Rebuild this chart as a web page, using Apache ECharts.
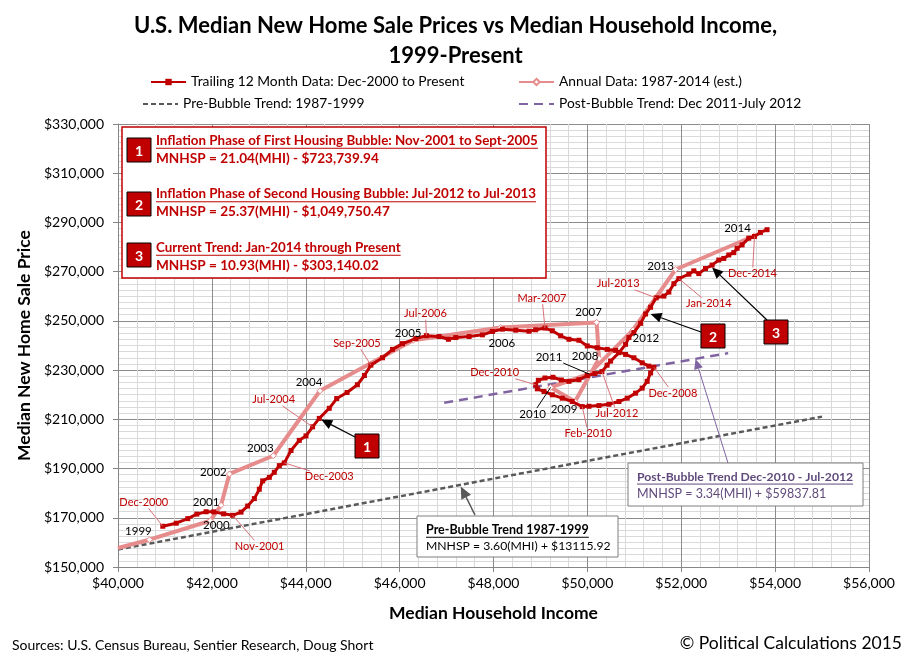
<!DOCTYPE html>
<html>
<head>
<meta charset="utf-8">
<script src="https://cdn.jsdelivr.net/npm/echarts/dist/echarts.min.js"></script>
<style>
  html, body { margin: 0; padding: 0; background: #fff; }
  #main { width: 911px; height: 661px; }
</style>
</head>
<body>
<div id="main"></div>
<script>
// trailing 12 month data, Dec-2000 to present (income, price)
var ttmIncome = [40954,41240,41486,41680,41877,42040,42250,42443,42621,42762,
  42905,43011,43082,43224,43330,43437,43543,43686,43862,44005,
  44146,44288,44501,44660,44880,45100,45250,45388,45635,45848,
  46061,46346,46571,46842,47040,47197,47480,47763,47976,48189,
  48474,48757,48899,49097,49253,49431,49608,49821,49998,50210,
  50423,50602,50814,50991,51168,51310,51417,51347,51274,51168,
  51027,50849,50672,50459,50246,50034,49891,49678,49465,49253,
  49076,48933,48899,48955,49097,49267,49444,49608,49821,49998,
  50160,50310,50420,50495,50672,50814,50885,50991,51134,51240,
  51347,51466,51630,51736,51843,51949,52162,52268,52374,52517,
  52657,52800,52906,53013,53119,53190,53296,53438,53560,53687,53828];
var ttmPrice = [166550,167800,169650,171500,172450,172400,171600,171000,172300,174770,
  177800,181600,185000,186430,188480,191190,192300,197350,201460,203270,
  206960,210370,214480,218450,220900,224050,227800,232020,235010,238420,
  240760,242820,244000,243640,242530,243230,243640,244330,245690,246640,
  246230,245800,246390,247080,245980,243930,242530,242120,239820,239120,
  238420,238010,236370,235010,232960,231610,231190,228850,225440,222690,
  220640,218590,217230,216120,215590,215300,215180,217230,218590,219960,
  221330,222400,224050,225860,226800,227090,225980,225440,226110,227800,
  228600,229400,232000,233660,237070,240480,243230,245280,249000,252800,
  255550,259370,260070,261710,265120,267170,268980,270330,269220,271280,
  272670,274730,275380,276780,277730,279490,280890,283600,284300,285940,287050];

// labelled months (index into the ttm arrays)
var monthLabels = ['Dec-2000','Nov-2001','Dec-2003','Jul-2004','Sep-2005','Jul-2006','Mar-2007',
  'Dec-2008','Feb-2010','Dec-2010','Jul-2012','Jul-2013','Jan-2014','Dec-2014'];
var monthIndex = [0,7,16,20,27,32,43,56,66,72,81,91,95,108];

// annual data (first point is where the line enters at the left edge)
var annualYears = ['','1999','2000','2001','2002','2003','2004','2005','2006','2007','2008',
  '2009','2010','2011','2012','2013','2014'];
var annualIncome = [40000,40670,41968,42196,42373,43309,44303,46289,48154,50197,50250,
  49736,49218,50034,50970,51879,53560];
var annualPrice = [157700,161090,168800,175100,187800,195200,221600,242120,247330,249390,234700,
  217230,222980,228440,246230,270870,284600];

// trend lines (end points)
var preTrendIncome = [40000, 55000];
var preTrendPrice = [157100, 211100];
var postTrendIncome = [46950, 53000];
var postTrendPrice = [216700, 236900];

var xTicks = [40000, 56000, 2000];
var yTicks = [150000, 330000, 20000];

// label placement (pixel offsets of label centre from its point)
var monthOffsets = [[-19,-24],[27,31],[45,14],[-39,-27],[-14,-22],[-1,-22],[-3,-30],
  [19,26],[6,27],[-41,-12],[15,42],[-38,-14],[30,25],[-2,37]];
var yearOffsets = [null,[-11,-8],[6,5],[-15,-3],[-16,-2],[-13,-7],[-11,-8],[-5,-7],[1,16],
  [-8,-10],[-14,-2],[-11,8],[-18,27],[-40,-17],[13,8],[-15,-3],[-17,-7]];
var yearLeader = ['2010', '2011'];

var FONT = 'Lato, "Open Sans", sans-serif';
var RED = '#C00000';
var PINK = '#E68C8C';
var GRAY = '#595959';
var PURPLE = '#8064A2';

function zip(a, b) { return a.map(function (v, i) { return [v, b[i]]; }); }
function money(v) { return '$' + String(v).replace(/\B(?=(\d{3})+(?!\d))/g, ','); }

var chart = echarts.init(document.getElementById('main'));

var legendBase = {
  itemWidth: 35, itemHeight: 8, padding: 0, itemGap: 0,
  textStyle: { fontFamily: FONT, fontSize: 13.8, color: '#000' }
};

var annualData = zip(annualIncome, annualPrice).map(function (p, i) {
  return i === 0 ? { value: p, symbol: 'none' } : p;
});

chart.setOption({
  animation: false,
  backgroundColor: '#fff',
  title: {
    text: 'U.S. Median New Home Sale Prices vs Median Household Income,\n1999-Present',
    left: 'center', top: 6,
    textStyle: { fontFamily: FONT, fontSize: 22, fontWeight: 'bold', color: '#000', lineHeight: 30 }
  },
  legend: [
    Object.assign({ data: ['Trailing 12 Month Data: Dec-2000 to Present'], left: 150, top: 75 }, legendBase),
    Object.assign({ data: ['Annual Data: 1987-2014 (est.)'], left: 518, top: 75 }, legendBase),
    Object.assign({ data: [{ name: 'Pre-Bubble Trend: 1987-1999', itemStyle: { opacity: 0 } }],
      left: 142, top: 97 }, legendBase),
    Object.assign({ data: [{ name: 'Post-Bubble Trend: Dec 2011-July 2012', itemStyle: { opacity: 0 } }],
      left: 518, top: 97 }, legendBase)
  ],
  grid: { left: 118, top: 124, width: 751, height: 443 },
  xAxis: {
    type: 'value', min: xTicks[0], max: xTicks[1], interval: xTicks[2],
    name: 'Median Household Income', nameLocation: 'middle', nameGap: 37,
    nameTextStyle: { fontFamily: FONT, fontSize: 17.5, fontWeight: 'bold', color: '#000' },
    axisLine: { show: true, lineStyle: { color: '#868686' } },
    axisTick: { show: true, length: 5, lineStyle: { color: '#868686' } },
    axisLabel: { formatter: money, fontFamily: FONT, fontSize: 14, color: '#000', margin: 9 },
    splitLine: { show: true, lineStyle: { color: '#8C8C8C' } },
    minorTick: { show: false, splitNumber: 5 },
    minorSplitLine: { show: true, lineStyle: { color: '#D9D9D9' } }
  },
  yAxis: {
    type: 'value', min: yTicks[0], max: yTicks[1], interval: yTicks[2],
    name: 'Median New Home Sale Price', nameLocation: 'middle', nameGap: 82,
    nameTextStyle: { fontFamily: FONT, fontSize: 17.5, fontWeight: 'bold', color: '#000' },
    axisLine: { show: true, lineStyle: { color: '#868686' } },
    axisTick: { show: true, length: 5, lineStyle: { color: '#868686' } },
    axisLabel: { formatter: money, fontFamily: FONT, fontSize: 14, color: '#000', margin: 14 },
    splitLine: { show: true, lineStyle: { color: '#8C8C8C' } },
    minorTick: { show: false, splitNumber: 8 },
    minorSplitLine: { show: true, lineStyle: { color: '#D9D9D9' } }
  },
  series: [
    {
      name: 'Pre-Bubble Trend: 1987-1999', type: 'line', symbol: 'none',
      data: zip(preTrendIncome, preTrendPrice),
      lineStyle: { color: GRAY, width: 2.5, type: [5, 3] }, itemStyle: { color: GRAY }, z: 2
    },
    {
      name: 'Post-Bubble Trend: Dec 2011-July 2012', type: 'line', symbol: 'none',
      data: zip(postTrendIncome, postTrendPrice),
      lineStyle: { color: PURPLE, width: 2.5, type: [9, 6] }, itemStyle: { color: PURPLE }, z: 2
    },
    {
      name: 'Annual Data: 1987-2014 (est.)', type: 'line', symbol: 'diamond', symbolSize: 6,
      showAllSymbol: true, data: annualData,
      lineStyle: { color: PINK, width: 4 },
      itemStyle: { color: '#fff', borderColor: PINK, borderWidth: 1 }, z: 3
    },
    {
      name: 'Trailing 12 Month Data: Dec-2000 to Present', type: 'line', symbol: 'rect', symbolSize: 5,
      showAllSymbol: true, data: zip(ttmIncome, ttmPrice),
      lineStyle: { color: RED, width: 3 }, itemStyle: { color: RED }, z: 4
    }
  ]
});

// ---------- annotations ----------
var ctx = document.createElement('canvas').getContext('2d');
function textW(str, size, weight) {
  ctx.font = (weight || 'normal') + ' ' + size + 'px ' + FONT;
  return ctx.measureText(str).width;
}
function px(x, y) { return chart.convertToPixel({ gridIndex: 0 }, [x, y]); }

var g = [];
function text(str, x, y, size, color, weight, align) {
  g.push({ type: 'text', x: x, y: y, z: 20,
    style: { text: str, fill: color, fontFamily: FONT, fontSize: size, fontWeight: weight || 'normal',
      align: align || 'left', verticalAlign: 'middle' } });
}
function line(x1, y1, x2, y2, color, w) {
  g.push({ type: 'line', z: 19, shape: { x1: x1, y1: y1, x2: x2, y2: y2 },
    style: { stroke: color, lineWidth: w || 1 } });
}
function arrow(x1, y1, x2, y2, color, w, head) {
  var a = Math.atan2(y2 - y1, x2 - x1), L = head || 10, W = L * 0.45;
  var bx = x2 - L * Math.cos(a), by = y2 - L * Math.sin(a);
  line(x1, y1, bx, by, color, w);
  g.push({ type: 'polygon', z: 19, shape: { points: [[x2, y2],
    [bx + W * Math.sin(a), by - W * Math.cos(a)], [bx - W * Math.sin(a), by + W * Math.cos(a)]] },
    style: { fill: color } });
}
function underlined(str, x, y, size, color) {
  text(str, x, y, size, color, 'bold');
  line(x, y + size * 0.58, x + textW(str, size, 'bold'), y + size * 0.58, color, 1);
}
function pointLabel(str, p, off, size, color, weight, leader, leaderColor) {
  var cx = p[0] + off[0], cy = p[1] + off[1];
  text(str, cx, cy, size, color, weight, 'center');
  if (leader) {
    var hw = textW(str, size, weight) / 2 + 1, hh = size * 0.55;
    var vx = p[0] - cx, vy = p[1] - cy;
    var t = Math.min(vx ? hw / Math.abs(vx) : 1e9, vy ? hh / Math.abs(vy) : 1e9);
    if (t < 1) line(cx + vx * t, cy + vy * t, p[0], p[1], leaderColor, 1);
  }
}

monthLabels.forEach(function (m, i) {
  var k = monthIndex[i];
  pointLabel(m, px(ttmIncome[k], ttmPrice[k]), monthOffsets[i], 11, RED, 'normal', true, '#D9707A');
});
annualYears.forEach(function (y, i) {
  if (!y) return;
  pointLabel(y, px(annualIncome[i], annualPrice[i]), yearOffsets[i], 11.5, '#000', 'normal',
    yearLeader.indexOf(y) >= 0, '#000');
});

// bubble phase box
g.push({ type: 'rect', z: 15, shape: { x: 122, y: 127, width: 424, height: 151 },
  style: { fill: '#fff', stroke: RED, lineWidth: 1.5 } });
var phases = [
  ['1', 'Inflation Phase of First Housing Bubble: Nov-2001 to Sept-2005', 'MNHSP = 21.04(MHI) - $723,739.94', 140.5, 150],
  ['2', 'Inflation Phase of Second Housing Bubble: Jul-2012 to Jul-2013', 'MNHSP = 25.37(MHI) - $1,049,750.47', 194, 204],
  ['3', 'Current Trend: Jan-2014 through Present', 'MNHSP = 10.93(MHI) - $303,140.02', 247.5, 255]
];
function numBox(n, cx, cy) {
  g.push({ type: 'rect', z: 19, shape: { x: cx - 12, y: cy - 12, width: 24, height: 24 },
    style: { fill: RED, stroke: '#000', lineWidth: 1 } });
  text(n, cx, cy + 1, 14, '#fff', 'bold', 'center');
}
phases.forEach(function (ph) {
  numBox(ph[0], 139, ph[4]);
  underlined(ph[1], 156, ph[3], 13.4, RED);
  text(ph[2], 156, ph[3] + 18, 13.6, RED, 'bold');
});

// numbered markers and arrows onto the curve
numBox('1', 367, 446);
arrow(355, 437, px(44330, 209900)[0], px(44330, 209900)[1], '#000', 1.2, 11);
numBox('2', 713, 336);
arrow(701, 332, px(51347, 252800)[0], px(51347, 252800)[1], '#000', 1.2, 11);
numBox('3', 776, 332);
arrow(767, 320, px(52657, 271700)[0], px(52657, 271700)[1], '#000', 1.2, 11);

// pre-bubble trend box
g.push({ type: 'rect', z: 15, shape: { x: 417, y: 516, width: 201, height: 41 },
  style: { fill: '#fff', stroke: '#7F7F7F', lineWidth: 1 } });
underlined('Pre-Bubble Trend 1987-1999', 426, 530, 12.5, '#000');
text('MNHSP = 3.60(MHI) + $13115.92', 426, 546.5, 12.2, '#000');
arrow(475, 515, px(47303, 182700)[0], px(47303, 182700)[1], GRAY, 1.6, 12);

// post-bubble trend box
g.push({ type: 'rect', z: 15, shape: { x: 628, y: 463, width: 235, height: 43 },
  style: { fill: '#fff', stroke: '#7F7F7F', lineWidth: 1 } });
underlined('Post-Bubble Trend Dec-2010 - Jul-2012', 637, 477, 12.2, '#604A7B');
text('MNHSP = 3.34(MHI) + $59837.81', 637, 493.5, 12.5, '#604A7B');
arrow(728, 463, px(52304, 234500)[0], px(52304, 234500)[1], PURPLE, 1, 10);

// footer
text('Sources: U.S. Census Bureau, Sentier Research, Doug Short', 12, 645, 14, '#000');
text('\u00A9 Political Calculations 2015', 902, 643, 17.5, '#000', 'normal', 'right');

chart.setOption({ graphic: { elements: g } });
</script>
</body>
</html>
